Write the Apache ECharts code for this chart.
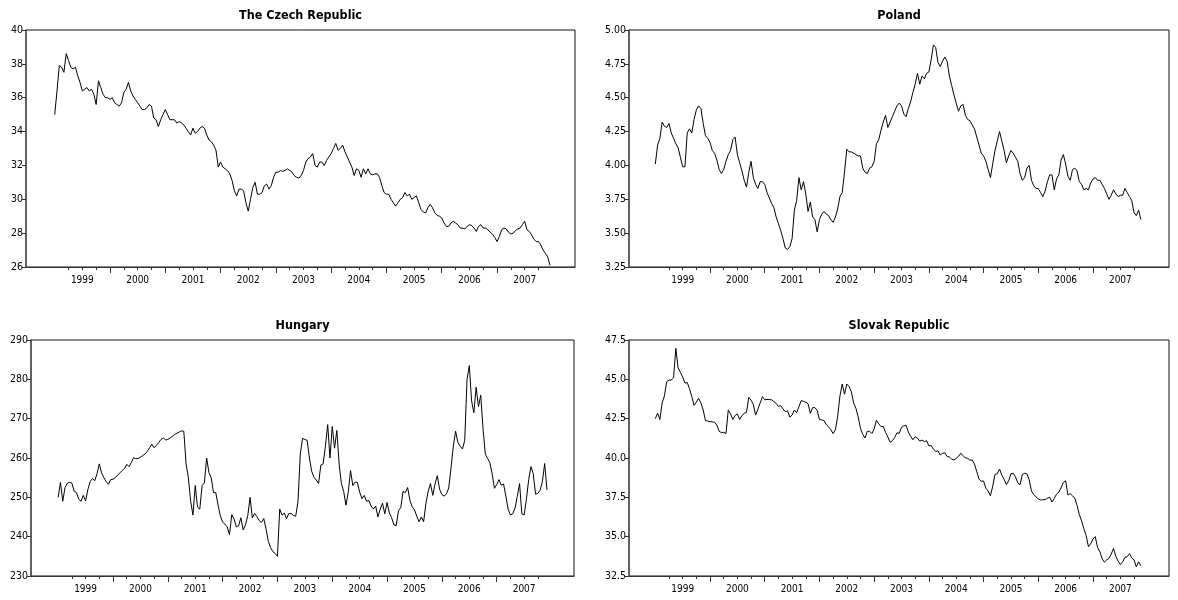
<!DOCTYPE html>
<html>
<head>
<meta charset="utf-8">
<script src="https://cdn.jsdelivr.net/npm/echarts@6/dist/echarts.min.js"></script>
<style>
  html, body { margin: 0; padding: 0; background: #fff; }
  #chart { width: 1178px; height: 600px; }
</style>
</head>
<body>
<div id="chart"></div>
<script>
// Euro exchange rates of four central European currencies, semi-monthly, from January 1999.
const firstYear = 1999;
const obsPerYear = 24;

const czechRepublic = [
  35.0, 36.4, 37.9, 37.8, 37.5, 38.6, 38.2, 37.8, 37.7, 37.8, 37.3, 36.9,
  36.4, 36.5, 36.6, 36.4, 36.5, 36.2, 35.6, 37.0, 36.6, 36.2, 36.0, 36.0,
  35.9, 36.0, 35.7, 35.6, 35.5, 35.7, 36.3, 36.5, 36.9, 36.4, 36.1, 35.9,
  35.7, 35.5, 35.3, 35.3, 35.4, 35.6, 35.5, 34.8, 34.7, 34.3, 34.7, 35.0,
  35.3, 35.0, 34.7, 34.7, 34.7, 34.5, 34.6, 34.5, 34.4, 34.2, 34.0, 33.8,
  34.2, 33.9, 34.0, 34.2, 34.3, 34.2, 33.8, 33.5, 33.4, 33.2, 32.9, 31.9,
  32.2, 31.9, 31.8, 31.7, 31.5, 31.1, 30.5, 30.2, 30.6, 30.6, 30.5, 29.8,
  29.3, 30.0, 30.7, 31.0, 30.3, 30.3, 30.4, 30.8, 30.9, 30.6, 30.8, 31.3,
  31.6, 31.6, 31.7, 31.65, 31.7, 31.8, 31.7, 31.6, 31.4, 31.3, 31.25, 31.4,
  31.7, 32.2, 32.4, 32.5, 32.7, 32.0, 31.9, 32.2, 32.2, 32.0, 32.3, 32.5,
  32.7, 33.0, 33.3, 32.9, 33.0, 33.2, 32.8, 32.5, 32.2, 31.9, 31.4, 31.8,
  31.7, 31.3, 31.8, 31.5, 31.8, 31.5, 31.45, 31.5, 31.5, 31.3, 30.8, 30.4,
  30.3, 30.3, 30.0, 29.8, 29.6, 29.8, 30.0, 30.1, 30.4, 30.2, 30.3, 30.0,
  30.1, 30.2, 29.8, 29.4, 29.25, 29.2, 29.5, 29.7, 29.5, 29.2, 29.05, 29.0,
  28.9, 28.6, 28.4, 28.4, 28.6, 28.7, 28.6, 28.5, 28.3, 28.3, 28.25, 28.4,
  28.5, 28.45, 28.3, 28.1, 28.4, 28.5, 28.3, 28.3, 28.2, 28.05, 27.95, 27.75,
  27.5, 27.8, 28.2, 28.3, 28.25, 28.05, 27.95, 28.0, 28.15, 28.25, 28.3, 28.5,
  28.7, 28.2, 28.1, 27.9, 27.65, 27.5, 27.5, 27.3, 27.0, 26.8, 26.6, 26.1
];

const poland = [
  4.01, 4.15, 4.20, 4.32, 4.29, 4.28, 4.31, 4.24, 4.20, 4.16, 4.13, 4.06,
  3.99, 3.99, 4.24, 4.27, 4.24, 4.34, 4.41, 4.44, 4.42, 4.31, 4.22, 4.20,
  4.17, 4.11, 4.09, 4.04, 3.97, 3.94, 3.97, 4.03, 4.08, 4.11, 4.19, 4.21,
  4.08, 4.02, 3.96, 3.89, 3.84, 3.95, 4.03, 3.91, 3.86, 3.83, 3.88, 3.88,
  3.86, 3.80, 3.76, 3.72, 3.69, 3.62, 3.57, 3.52, 3.46, 3.39, 3.38, 3.40,
  3.46, 3.67, 3.74, 3.91, 3.82, 3.88, 3.79, 3.66, 3.73, 3.62, 3.60, 3.51,
  3.60, 3.64, 3.66, 3.64, 3.63, 3.60, 3.58, 3.62, 3.68, 3.77, 3.80, 3.95,
  4.12, 4.10, 4.10, 4.09, 4.08, 4.07, 4.07, 3.98, 3.95, 3.94, 3.98, 3.99,
  4.03, 4.16, 4.19, 4.26, 4.32, 4.37, 4.28, 4.32, 4.36, 4.40, 4.44, 4.46,
  4.44, 4.38, 4.36, 4.42, 4.47, 4.54, 4.60, 4.68, 4.60, 4.66, 4.64, 4.68,
  4.69, 4.78, 4.89, 4.87, 4.76, 4.73, 4.77, 4.80, 4.77, 4.66, 4.59, 4.52,
  4.46, 4.40, 4.44, 4.45, 4.37, 4.34, 4.33, 4.30, 4.27, 4.21, 4.15, 4.09,
  4.07, 4.03, 3.97, 3.91, 4.01, 4.11, 4.18, 4.25, 4.18, 4.11, 4.02, 4.07,
  4.11, 4.09, 4.06, 4.03, 3.94, 3.89, 3.91, 3.98, 4.00, 3.89, 3.85, 3.83,
  3.83, 3.80, 3.77, 3.81, 3.88, 3.93, 3.93, 3.82, 3.90, 3.93, 4.04, 4.08,
  4.01, 3.92, 3.89, 3.97, 3.98, 3.96, 3.88, 3.86, 3.82, 3.83, 3.82, 3.87,
  3.90, 3.91, 3.89, 3.89, 3.86, 3.83, 3.79, 3.75, 3.78, 3.82, 3.79, 3.77,
  3.78, 3.78, 3.83, 3.80, 3.77, 3.74, 3.65, 3.63, 3.67, 3.60
];

const hungary = [
  250.0, 253.8, 249.0, 252.5, 253.6, 253.8, 253.6, 251.5, 251.2, 249.5, 249.0, 250.5,
  249.1, 252.0, 254.0, 254.8, 254.2, 256.0, 258.5, 256.2, 255.0, 254.0, 253.3, 254.5,
  254.6, 255.0, 255.6, 256.2, 256.8, 257.3, 258.4, 257.8, 258.8, 260.1, 259.8, 259.9,
  260.2, 260.6, 261.0, 261.7, 262.6, 263.5, 262.6, 263.2, 263.9, 264.7, 265.1, 264.6,
  264.7, 265.1, 265.5, 266.0, 266.3, 266.6, 266.9, 266.8, 258.5, 255.0, 249.0, 245.5,
  253.0, 247.5, 247.0, 253.0, 253.7, 260.0, 256.3, 255.0, 251.2, 251.2, 248.0, 245.3,
  243.7, 243.2, 242.5, 240.5, 245.6, 244.5, 242.5, 242.8, 244.8, 241.7, 243.0, 245.3,
  250.0, 244.8, 245.9, 245.1, 244.1, 243.6, 244.6, 242.0, 238.8, 237.2, 236.2, 235.7,
  235.0, 247.0, 245.5, 246.0, 244.6, 245.9, 245.9, 245.4, 245.2, 249.0, 261.0, 265.0,
  264.7, 264.5, 260.0, 256.6, 255.1, 254.4, 253.5, 258.2, 258.5, 263.0, 268.5, 260.0,
  268.0, 262.5, 267.0, 258.5, 253.5, 251.5, 248.0, 251.3, 256.8, 253.0, 253.9, 253.8,
  251.3, 249.7, 250.5, 249.0, 249.2, 247.8, 247.0, 247.8, 245.0, 247.0, 248.5, 245.8,
  248.7, 246.0, 244.8, 243.0, 242.8, 246.6, 247.4, 251.5, 251.2, 252.5, 249.2, 247.6,
  246.8, 245.2, 243.8, 245.0, 243.8, 248.5, 251.5, 253.5, 250.5, 253.4, 255.5, 252.0,
  250.7, 250.3, 250.9, 252.4, 257.5, 263.0, 266.8, 264.0, 263.0, 262.3, 264.5, 280.0,
  283.5, 274.5, 271.5, 278.0, 273.0, 276.0, 267.5, 261.0, 259.9, 258.8, 256.0, 252.3,
  253.2, 254.5, 253.1, 253.4, 250.3, 247.0, 245.5, 245.8, 247.2, 250.2, 253.5, 245.8,
  245.5, 249.5, 254.5, 257.8, 256.0, 250.8, 251.0, 251.8, 254.0, 258.6, 251.9
];

const slovakRepublic = [
  42.5, 42.85, 42.45, 43.5, 43.95, 44.85, 44.95, 44.95, 45.1, 46.97, 45.72, 45.45,
  45.15, 44.76, 44.8, 44.4, 43.9, 43.35, 43.55, 43.8, 43.5, 43.05, 42.37, 42.35,
  42.31, 42.3, 42.27, 42.1, 41.7, 41.61, 41.63, 41.55, 43.05, 42.8, 42.45, 42.7,
  42.8, 42.45, 42.7, 42.84, 42.9, 43.85, 43.68, 43.4, 42.73, 43.1, 43.5, 43.9,
  43.7, 43.72, 43.72, 43.7, 43.58, 43.47, 43.28, 43.33, 43.12, 42.95, 43.0, 42.6,
  42.73, 43.05, 42.88, 43.26, 43.65, 43.6, 43.55, 43.45, 42.84, 43.2, 43.2, 43.03,
  42.45, 42.42, 42.38, 42.12, 41.98, 41.8, 41.55, 41.8, 42.65, 43.95, 44.7, 44.05,
  44.7, 44.55, 44.2, 43.5, 43.16, 42.6, 41.88, 41.5, 41.27, 41.7, 41.7, 41.55,
  41.85, 42.4, 42.17, 42.0, 42.0, 41.63, 41.33, 41.0, 41.1, 41.3, 41.6, 41.57,
  41.95, 42.04, 42.08, 41.65, 41.38, 41.16, 41.35, 41.26, 41.07, 41.14, 41.04, 41.1,
  40.77, 40.8, 40.56, 40.42, 40.45, 40.19, 40.3, 40.33, 40.1, 40.07, 39.93, 39.87,
  39.98, 40.1, 40.3, 40.16, 40.0, 39.98, 39.87, 39.87, 39.62, 39.14, 38.65, 38.52,
  38.54, 38.08, 37.9, 37.6, 38.2, 38.95, 39.0, 39.3, 38.9, 38.65, 38.3, 38.55,
  39.0, 39.03, 38.8, 38.42, 38.3, 38.95, 39.03, 39.0, 38.62, 37.9, 37.68, 37.53,
  37.4, 37.33, 37.35, 37.35, 37.45, 37.5, 37.2, 37.44, 37.7, 37.83, 38.1, 38.45,
  38.55, 37.65, 37.73, 37.6, 37.45, 36.98, 36.4, 36.0, 35.5, 35.07, 34.36, 34.55,
  34.85, 35.0, 34.3, 34.05, 33.6, 33.38, 33.52, 33.62, 33.9, 34.25, 33.75, 33.45,
  33.23, 33.4, 33.68, 33.73, 33.92, 33.65, 33.52, 33.08, 33.4, 33.15
];

const panelTitles = ['The Czech Republic', 'Poland', 'Hungary', 'Slovak Republic'];
const yearLabels = [1999, 2000, 2001, 2002, 2003, 2004, 2005, 2006, 2007];
const yMin = [26, 3.25, 230, 32.5];
const yMax = [40, 5.00, 290, 47.5];
const yStep = [2, 0.25, 10, 2.5];
const yDecimals = [0, 2, 0, 1];

const seriesValues = [czechRepublic, poland, hungary, slovakRepublic];

// Panel frames in pixels and the date span each horizontal axis covers.
const frames = [
  { left: 26,  top: 30,  width: 549, height: 237, xMin: 1998.481, xMax: 2008.41 },
  { left: 629, top: 30,  width: 540, height: 237, xMin: 1998.519, xMax: 2008.389 },
  { left: 31,  top: 340, width: 543, height: 236, xMin: 1998.504, xMax: 2008.41 },
  { left: 629, top: 340, width: 540, height: 236, xMin: 1998.519, xMax: 2008.389 }
];

const FONT = "'DejaVu Sans Condensed', 'Liberation Sans Narrow', sans-serif";

// Quarter ticks inside each year, year-start ticks, and labels at mid-year.
const quarterTicks = [];
yearLabels.forEach(y => { [0.25, 0.5, 0.75].forEach(q => quarterTicks.push(y + q)); });
const yearStartTicks = yearLabels.slice(1);
const labelPositions = yearLabels.map(y => y + 0.5);

const grid = [], xAxis = [], yAxis = [], series = [], title = [];

frames.forEach((f, k) => {
  grid.push({
    left: f.left, top: f.top, width: f.width, height: f.height,
    show: true, borderColor: '#111', borderWidth: 1, backgroundColor: 'transparent'
  });

  title.push({
    text: panelTitles[k],
    left: f.left + f.width / 2,
    top: f.top - 21,
    textAlign: 'center',
    padding: 0,
    textStyle: { fontFamily: FONT, fontWeight: 'bold', fontSize: 12.5, color: '#000' }
  });

  // main date axis: quarter ticks and year labels
  xAxis.push({
    type: 'value', gridIndex: k, min: f.xMin, max: f.xMax,
    axisLine: { show: true, lineStyle: { color: '#333', width: 1 } },
    axisTick: { show: true, customValues: quarterTicks, length: 3, lineStyle: { color: '#333' } },
    axisLabel: {
      show: true, customValues: labelPositions, margin: 8,
      formatter: v => String(Math.floor(v)),
      fontFamily: FONT, fontSize: 10, color: '#000'
    },
    splitLine: { show: false }
  });
  // overlay axis carrying the longer year-start ticks
  xAxis.push({
    type: 'value', gridIndex: k, min: f.xMin, max: f.xMax, position: 'bottom',
    axisLine: { show: false },
    axisTick: { show: true, customValues: yearStartTicks, length: 6, lineStyle: { color: '#333' } },
    axisLabel: { show: false },
    splitLine: { show: false }
  });

  yAxis.push({
    type: 'value', gridIndex: k, min: yMin[k], max: yMax[k], interval: yStep[k],
    axisLine: { show: true, lineStyle: { color: '#555', width: 1.5 } },
    axisTick: { show: true, length: 4, lineStyle: { color: '#333' } },
    axisLabel: {
      margin: 3, fontFamily: FONT, fontSize: 10.5, color: '#000',
      formatter: v => v.toFixed(yDecimals[k])
    },
    splitLine: { show: false }
  });

  series.push({
    type: 'line',
    xAxisIndex: 2 * k, yAxisIndex: k,
    showSymbol: false,
    symbol: 'none',
    lineStyle: { color: '#000', width: 1 },
    data: seriesValues[k].map((v, i) => [firstYear + i / obsPerYear, v])
  });
});

const chart = echarts.init(document.getElementById('chart'), null, { renderer: 'canvas' });
chart.setOption({
  animation: false,
  backgroundColor: '#fff',
  title, grid, xAxis, yAxis, series
});
</script>
</body>
</html>
